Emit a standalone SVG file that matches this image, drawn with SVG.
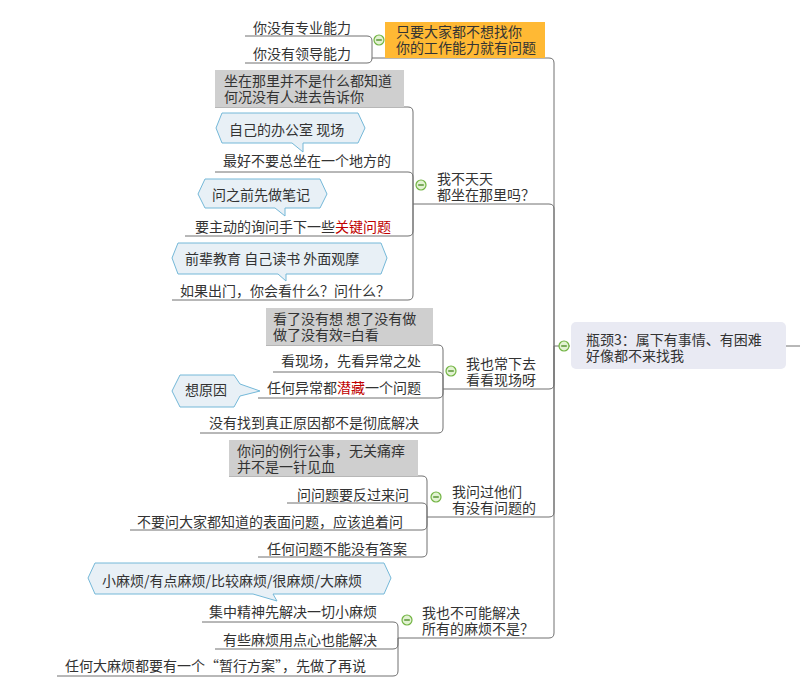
<svg xmlns="http://www.w3.org/2000/svg" width="800" height="698" viewBox="0 0 800 698">
<style>
text{font-family:"Noto Sans CJK SC","Noto Sans",sans-serif;font-size:14px;fill:#333}
.red{fill:#c00000}
.ln{fill:none;stroke:#707070;stroke-width:1}
.call{fill:#e8f0f6;stroke:#74b8d8;stroke-width:1}
.gray{fill:#cfcfcf}
.btn circle{fill:#e2f2d2;stroke:#72b443;stroke-width:1.2}
.btn path{stroke:#4f8f2a;stroke-width:1.4}
</style>
<defs>
<g id="minus" class="btn"><circle cx="0" cy="0" r="5"/><path d="M-2.8 0H2.8"/></g>
</defs>
<rect width="800" height="698" fill="#fff"/>
<g id="connectors">
<path class="ln" d="M570 346H554"/>
<path class="ln" d="M786 346H800"/>
<path class="ln" d="M554 346V63Q554 58 549 58H372"/>
<path class="ln" d="M554 346V209Q554 204 549 204H413"/>
<path class="ln" d="M554 346V384Q554 389 549 389H443"/>
<path class="ln" d="M554 346V512Q554 517 549 517H427"/>
<path class="ln" d="M554 346V633Q554 638 549 638H398"/>
<path class="ln" d="M372 58V41Q372 36 367 36H245"/>
<path class="ln" d="M372 58Q372 63 367 63H245"/>
<path class="ln" d="M413 204V112Q413 107 408 107H215"/>
<path class="ln" d="M413 204V177Q413 172 408 172H215"/>
<path class="ln" d="M413 204V231Q413 236 408 236H185"/>
<path class="ln" d="M413 204V295Q413 300 408 300H172"/>
<path class="ln" d="M443 389V350Q443 345 438 345H266"/>
<path class="ln" d="M443 389V377Q443 372 438 372H273"/>
<path class="ln" d="M443 389V393Q443 398 438 398H258"/>
<path class="ln" d="M443 389V428Q443 433 438 433H200"/>
<path class="ln" d="M427 517V481Q427 476 422 476H229"/>
<path class="ln" d="M427 517V508Q427 503 422 503H287"/>
<path class="ln" d="M427 517V525Q427 530 422 530H130"/>
<path class="ln" d="M427 517V552Q427 557 422 557H258"/>
<path class="ln" d="M398 638V627Q398 622 393 622H202"/>
<path class="ln" d="M398 638V644Q398 649 393 649H215"/>
<path class="ln" d="M398 638V671Q398 676 393 676H57"/>
</g>
<g id="root">
<rect x="571" y="322" width="215" height="47" rx="5" fill="#e9eaf3"/>
<text x="586" y="345">瓶颈3：属下有事情、有困难<tspan x="586" dy="16">好像都不来找我</tspan></text>
<use href="#minus" x="564" y="346"/>
</g>
<g id="topic1">
<rect x="385" y="22" width="160" height="36" fill="#ffb934"/>
<text x="396" y="37">只要大家都不想找你<tspan x="396" dy="16">你的工作能力就有问题</tspan></text>
<use href="#minus" x="379" y="40"/>
</g>
<g id="t1c1"><text x="253" y="33">你没有专业能力</text></g>
<g id="t1c2"><text x="253" y="59">你没有领导能力</text></g>
<g id="topic2">
<text x="437" y="184">我不天天<tspan x="437" dy="16">都坐在那里吗？</tspan></text>
<use href="#minus" x="421" y="185"/>
</g>
<g id="t2c1">
<rect class="gray" x="215" y="70" width="189" height="37"/>
<text x="224" y="86">坐在那里并不是什么都知道<tspan x="224" dy="16">何况没有人进去告诉你</tspan></text>
</g>
<g id="t2c2">
<path class="call" d="M216 128L222 113H358L365 128L358 143H303V152L292 143H222Z"/>
<text x="229" y="135">自己的办公室  现场</text>
<text x="223" y="166">最好不要总坐在一个地方的</text>
</g>
<g id="t2c3">
<path class="call" d="M198 194L205 179H320L327 194L320 208H285V216L275 208H205Z"/>
<text x="212" y="200">问之前先做笔记</text>
<text x="195" y="232">要主动的询问手下一些<tspan class="red">关键问题</tspan></text>
</g>
<g id="t2c4">
<path class="call" d="M172 258L178 243H381L387 258L381 274H286V281L278 274H178Z"/>
<text x="185" y="264">前辈教育  自己读书  外面观摩</text>
<text x="180" y="296">如果出门，你会看什么？问什么？</text>
</g>
<g id="topic3">
<text x="466" y="369">我也常下去<tspan x="466" dy="16">看看现场呀</tspan></text>
<use href="#minus" x="451" y="371"/>
</g>
<g id="t3c1">
<rect class="gray" x="266" y="308" width="167" height="37"/>
<text x="273" y="324">看了没有想  想了没有做<tspan x="273" dy="16">做了没有效=白看</tspan></text>
</g>
<g id="t3c2"><text x="281" y="366">看现场，先看异常之处</text></g>
<g id="t3c3">
<path class="call" d="M172 391L180 375H234L240 384L260 391L240 396L234 407H180Z"/>
<text x="185" y="395">想原因</text>
<text x="267" y="393">任何异常都<tspan class="red">潜藏</tspan>一个问题</text>
</g>
<g id="t3c4"><text x="209" y="428">没有找到真正原因都不是彻底解决</text></g>
<g id="topic4">
<text x="452" y="497">我问过他们<tspan x="452" dy="16">有没有问题的</tspan></text>
<use href="#minus" x="436" y="497"/>
</g>
<g id="t4c1">
<rect class="gray" x="229" y="440" width="189" height="36"/>
<text x="237" y="456">你问的例行公事，无关痛痒<tspan x="237" dy="16">并不是一针见血</tspan></text>
</g>
<g id="t4c2"><text x="297" y="500">问问题要反过来问</text></g>
<g id="t4c3"><text x="137" y="527">不要问大家都知道的表面问题，应该追着问</text></g>
<g id="t4c4"><text x="267" y="554">任何问题不能没有答案</text></g>
<g id="topic5">
<text x="422" y="618">我也不可能解决<tspan x="422" dy="16">所有的麻烦不是？</tspan></text>
<use href="#minus" x="407" y="620"/>
</g>
<g id="t5c1">
<path class="call" d="M88 578L95 563H384L391 578L384 594H273L277 601L253 594H95Z"/>
<text x="102" y="586">小麻烦/有点麻烦/比较麻烦/很麻烦/大麻烦</text>
<text x="209" y="617">集中精神先解决一切小麻烦</text>
</g>
<g id="t5c2"><text x="223" y="645">有些麻烦用点心也能解决</text></g>
<g id="t5c3"><text x="65" y="671">任何大麻烦都要有一个“暂行方案”，先做了再说</text></g>
</svg>
